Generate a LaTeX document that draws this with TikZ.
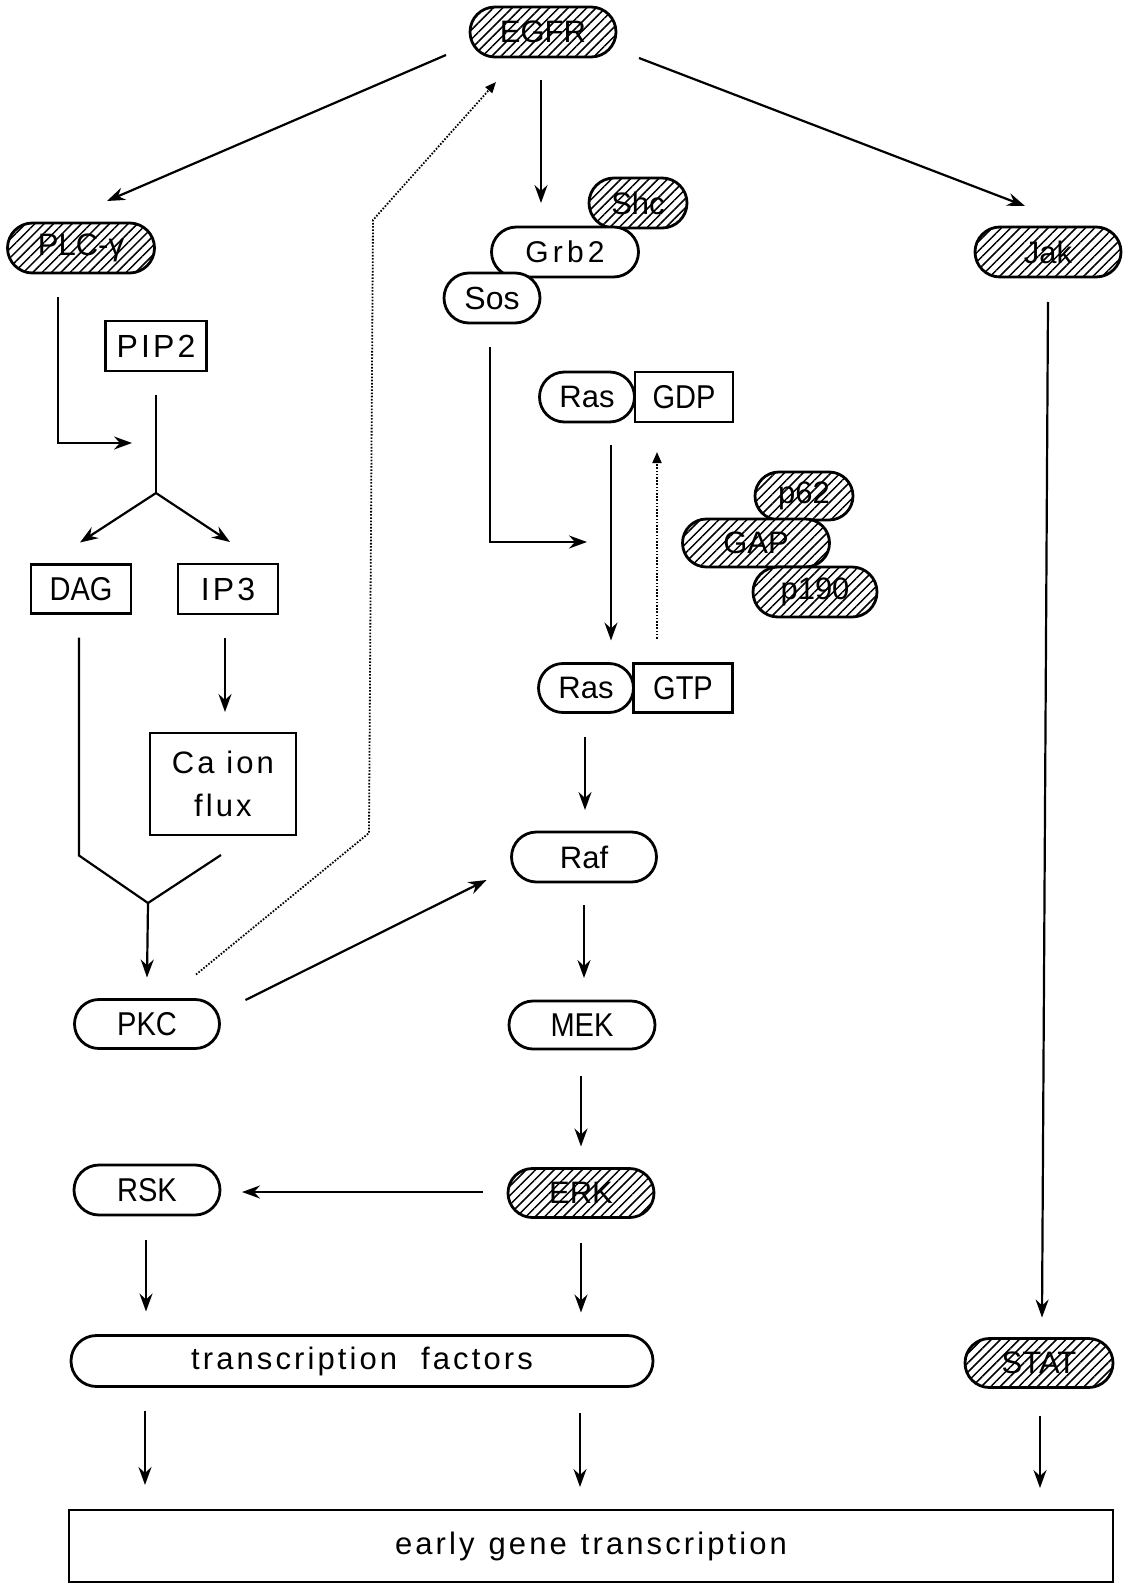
\documentclass[tikz,border=0pt]{standalone}
\usepackage{fontspec}
\setmainfont{Liberation Sans}
\newfontfamily\spacedfont[LetterSpace=10]{Liberation Sans}
\newfontfamily\grbfont[LetterSpace=14]{Liberation Sans}
\newfontfamily\narrowfont[FakeStretch=0.88]{Liberation Sans}
\usetikzlibrary{arrows.meta,shapes.misc,patterns.meta}
\begin{document}
\begin{tikzpicture}[x=0.5pt,y=-0.5pt,
 base/.style={inner sep=0pt, outer sep=0pt, line width=1.4pt, font=\fontsize{15.5pt}{18pt}\selectfont},
 pill/.style={base, rounded rectangle, draw, fill=white},
 hpill/.style={base, rounded rectangle, draw, preaction={fill=white}, pattern={Lines[angle=45,distance=3.3pt,line width=0.75pt]}},
 box/.style={base, rectangle, draw, fill=white},
 narrowf/.style={font=\narrowfont\fontsize{16.5pt}{18pt}\selectfont},
 arr/.style={line width=1.1pt, -{Stealth[length=9pt,width=6.5pt,inset=3pt]}},
 ln/.style={line width=1.1pt},
 dotarr/.style={line width=0.9pt, dash pattern=on 0.8pt off 0.8pt, -{Triangle[length=5.5pt,width=4.5pt]}}
]
\useasboundingbox (0,0) rectangle (1123,1584);

% ---- nodes ----
\node[hpill, minimum width=73pt, minimum height=25pt] (EGFR) at (543,32) {EGFR};
\node[hpill, minimum width=73.5pt, minimum height=25pt] (PLC) at (81,248) {PLC-γ};
\node[hpill, minimum width=49pt, minimum height=25pt] (Shc) at (638,203) {Shc};
\node[pill, minimum width=73.5pt, minimum height=25pt, font=\grbfont\fontsize{15pt}{18pt}\selectfont] (Grb2) at (565,252) {Grb2};
\node[pill, minimum width=48pt, minimum height=25pt, font=\fontsize{16pt}{18pt}\selectfont] (Sos) at (492,298) {Sos};
\node[hpill, minimum width=73pt, minimum height=25pt] (Jak) at (1048,252) {Jak};

\node[box, minimum width=50.5pt, minimum height=25pt, font=\spacedfont\fontsize{16pt}{18pt}\selectfont] (PIP2) at (156,346) {PIP2};
\node[box, minimum width=50pt, minimum height=24.5pt, narrowf] (DAG) at (81,589) {DAG};
\node[box, minimum width=50pt, minimum height=25pt, font=\spacedfont\fontsize{16pt}{18pt}\selectfont] (IP3) at (228,589) {IP3};
\node[box, minimum width=73pt, minimum height=51pt, align=center, font=\spacedfont\fontsize{15.5pt}{21.5pt}\selectfont] (Ca) at (223,784) {Ca ion\\flux};

\node[pill, minimum width=47.5pt, minimum height=25pt] (Ras1) at (587,397) {Ras};
\node[box, minimum width=49pt, minimum height=25pt, narrowf] (GDP) at (684,397) {GDP};
\node[pill, minimum width=47.5pt, minimum height=24.5pt] (Ras2) at (586,688) {Ras};
\node[box, minimum width=49.5pt, minimum height=24.5pt, narrowf] (GTP) at (683,688) {GTP};

\node[hpill, minimum width=49pt, minimum height=24pt] (p62) at (804,496) {p62};
\node[hpill, minimum width=73.5pt, minimum height=24pt] (GAP) at (756,543) {GAP};
\node[hpill, minimum width=62pt, minimum height=25pt] (p190) at (815,592) {p190};

\node[pill, minimum width=72.5pt, minimum height=25pt] (Raf) at (584,857) {Raf};
\node[pill, minimum width=73pt, minimum height=24pt, narrowf] (MEK) at (582,1025) {MEK};
\node[pill, minimum width=72.5pt, minimum height=24.5pt, narrowf] (PKC) at (147,1024) {PKC};
\node[hpill, minimum width=73pt, minimum height=24.5pt] (ERK) at (581,1193) {ERK};
\node[pill, minimum width=73pt, minimum height=25pt, narrowf] (RSK) at (147,1190) {RSK};

\node[pill, minimum width=291pt, minimum height=25.5pt, font=\spacedfont\fontsize{15.5pt}{18pt}\selectfont] (TF) at (362,1361) {transcription\hspace{12pt}factors};
\node[hpill, minimum width=74pt, minimum height=24.5pt] (STAT) at (1039,1363) {STAT};
\node[box, minimum width=522pt, minimum height=36pt, font=\spacedfont\fontsize{15.5pt}{18pt}\selectfont] (EGT) at (591,1546) {early\hspace{7pt}gene\hspace{7pt}transcription};

% ---- helper coordinates ----
\coordinate (plcEnd) at (132,443);
\coordinate (split) at (156,493);
\coordinate (merge) at (148,903);
\coordinate (dk1) at (369,833);
\coordinate (dk2) at (373,220);
\coordinate (sosEnd) at (587,542);

% ---- connectors ----
\draw[arr] ([shift={(-24,23)}]EGFR.west) -- ([shift={(26,-22)}]PLC.north);
\draw[arr] ([shift={(-2,23)}]EGFR.south) -- ([shift={(-2,-24)}]EGFR.south |- Grb2.north);
\draw[arr] ([shift={(23,26)}]EGFR.east) -- ([shift={(-23,-21)}]Jak.north);
\draw[dotarr] ([shift={(1,-25)}]PKC.north east) -- (dk1) -- (dk2) -- ([shift={(-47,25)}]EGFR.south);

\draw[arr] ([shift={(-23,24)}]PLC.south) |- (plcEnd);
\draw[ln] ([shift={(0,24)}]PIP2.south) -- (split);
\draw[arr] (split) -- ([shift={(-1,-22)}]DAG.north);
\draw[arr] (split) -- ([shift={(2,-22)}]IP3.north);
\draw[arr] ([shift={(-3,24)}]IP3.south) -- ([shift={(2,-21)}]Ca.north);
\draw[ln] ([shift={(-2,24)}]DAG.south) -- ++(0,218) -- (merge);
\draw[ln] ([shift={(-2,20)}]Ca.south) -- (merge);
\draw[arr] (merge) -- ([shift={(0,-22)}]PKC.north);
\draw[arr] ([shift={(26,-24)}]PKC.east) -- ([shift={(-25,23)}]Raf.west);

\draw[arr] ([shift={(-2,24)}]Sos.south) |- (sosEnd);
\draw[arr] ([shift={(24,23)}]Ras1.south) -- ([shift={(25,-23)}]Ras2.north);
\draw[dotarr] ([shift={(-26,-25)}]GTP.north) -- ([shift={(-27,30)}]GDP.south);
\draw[arr] ([shift={(-1,24)}]Ras2.south) -- ([shift={(1,-22)}]Raf.north);
\draw[arr] ([shift={(0,23)}]Raf.south) -- ([shift={(2,-23)}]MEK.north);
\draw[arr] ([shift={(-1,27)}]MEK.south) -- ([shift={(0,-22)}]ERK.north);
\draw[arr] ([shift={(-25,-1)}]ERK.west) -- ([shift={(22,2)}]RSK.east);
\draw[arr] ([shift={(-1,25)}]RSK.south) -- ([shift={(-1,-24)}]RSK.south |- TF.north);
\draw[arr] ([shift={(0,25)}]ERK.south) -- ([shift={(0,-23)}]ERK.south |- TF.north);
\draw[arr] ([shift={(0,25)}]Jak.south) -- ([shift={(3,-21)}]STAT.north);

\draw[arr] ([shift={(-2,24)}]RSK.south |- TF.south) -- ([shift={(-2,-25)}]RSK.south |- EGT.north);
\draw[arr] ([shift={(-1,26)}]ERK.south |- TF.south) -- ([shift={(-1,-23)}]ERK.south |- EGT.north);
\draw[arr] ([shift={(1,28)}]STAT.south) -- ([shift={(1,-22)}]STAT.south |- EGT.north);
\end{tikzpicture}
\end{document}
